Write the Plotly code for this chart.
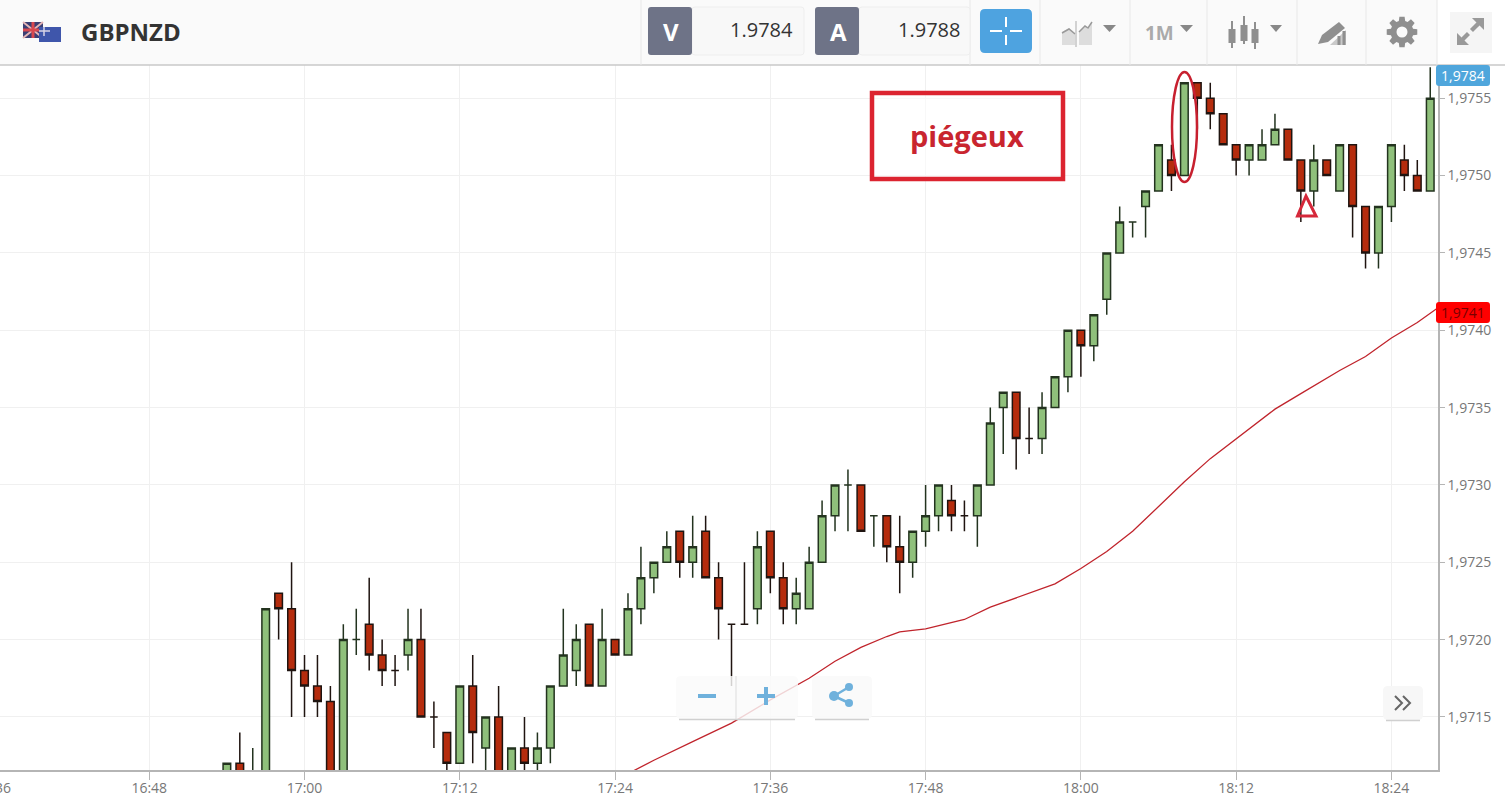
import math
import pandas as pd
import plotly.graph_objects as go

W, H = 1505, 809

# Candles, one per minute from 16:54, prices in units of 0.0001
open_pips = [19711,19712,19709,19710,19723,19722,19718,19717,19716,19710,19720,19721,19719,19718,19719,19720,19715,19714,19712,19717,
             19713,19715,19710,19713,19712,19713,19717,19718,19721,19717,19720,19719,19722,19724,19725,19727,19725,19727,19724,19721,
             19721,19722,19727,19724,19722,19722,19725,19728,19730,19730,19728,19728,19726,19725,19727,19728,19729,19728,19728,19730,
             19735,19736,19733,19733,19735,19737,19740,19739,19742,19745,19747,19748,19749,19751,19750,19756,19755,19754,19752,19751,
             19751,19752,19753,19751,19749,19751,19749,19752,19748,19745,19748,19751,19750,19749]
high_pips = [19712,19714,19713,19722,19723,19725,19719,19719,19717,19721,19722,19724,19720,19719,19722,19722,19716,19714,19717,19719,
             19715,19717,19713,19715,19714,19717,19722,19721,19721,19722,19720,19723,19726,19725,19727,19727,19728,19728,19725,19721,
             19725,19727,19727,19725,19724,19726,19729,19730,19731,19730,19728,19728,19728,19727,19730,19730,19730,19729,19730,19735,
             19736,19736,19735,19736,19737,19740,19740,19741,19745,19748,19747,19749,19752,19752,19756,19756,19756,19754,19752,19752,
             19753,19754,19753,19751,19752,19751,19752,19752,19748,19748,19752,19752,19751,19757]
low_pips = [19711,19711,19709,19710,19720,19715,19715,19715,19709,19710,19719,19718,19717,19717,19718,19715,19713,19711,19712,19712,
            19711,19710,19710,19711,19711,19712,19717,19717,19717,19717,19719,19719,19721,19723,19725,19724,19724,19724,19720,19717,
            19721,19721,19723,19721,19721,19722,19725,19727,19727,19727,19726,19725,19723,19724,19726,19727,19727,19727,19726,19730,
            19732,19731,19732,19732,19735,19736,19737,19738,19741,19745,19746,19746,19749,19749,19750,19753,19753,19752,19750,19750,
            19751,19752,19751,19747,19748,19750,19749,19746,19744,19744,19747,19749,19749,19749]
close_pips = [19712,19711,19710,19722,19722,19718,19717,19716,19710,19720,19720,19719,19718,19718,19720,19715,19715,19712,19717,19714,
              19715,19710,19713,19712,19713,19717,19719,19720,19717,19720,19719,19722,19724,19725,19726,19725,19726,19724,19722,19721,
              19721,19726,19724,19722,19723,19725,19728,19730,19730,19727,19728,19726,19725,19727,19728,19730,19728,19728,19730,19734,
              19736,19733,19733,19735,19737,19740,19739,19741,19745,19747,19747,19749,19752,19750,19756,19755,19754,19752,19751,19752,
              19752,19753,19751,19749,19751,19750,19752,19748,19745,19748,19752,19750,19749,19755]

# Moving average
ma_times = ["17:24","17:27","17:30","17:33","17:36","17:39","17:41","17:43","17:45","17:46","17:48","17:51","17:53","17:56","17:58",
            "18:00","18:02","18:04","18:06","18:08","18:10","18:12","18:15","18:17","18:20","18:22","18:24","18:26","18:27","18:28"]
ma_values = [1.97109,1.97122,1.97134,1.97146,1.97161,1.97175,1.97186,1.97195,1.97202,1.97205,1.97207,1.97213,1.97221,1.97230,1.97236,
             1.97246,1.97257,1.97270,1.97286,1.97302,1.97317,1.97330,1.97349,1.97359,1.97374,1.97383,1.97395,1.97405,1.97411,1.97417]

DAY = "2024-01-15 "
candle_times = pd.date_range(DAY + "16:54", periods=len(open_pips), freq="min")
scale = 1e-4


def X(px):
    return px / W


def Y(py):
    return 1 - py / H


def rect(x0, y0, x1, y1, fill, line=None, lw=1, opacity=1, layer="above"):
    return dict(type="rect", xref="paper", yref="paper", x0=X(x0), x1=X(x1), y0=Y(y0), y1=Y(y1),
                fillcolor=fill, line=dict(color=line or "rgba(0,0,0,0)", width=lw if line else 0),
                opacity=opacity, layer=layer)


def poly(pts, fill=None, line=None, lw=1, close=True, opacity=1):
    d = "M" + " L".join(f"{X(a):.5f},{Y(b):.5f}" for a, b in pts) + (" Z" if close else "")
    return dict(type="path", xref="paper", yref="paper", path=d,
                fillcolor=fill or "rgba(0,0,0,0)",
                line=dict(color=line or "rgba(0,0,0,0)", width=lw if line else 0),
                opacity=opacity, layer="above")


def rrect(x0, y0, x1, y1, r, fill, line=None, lw=1, opacity=1):
    a = lambda p, q: f"{X(p):.5f},{Y(q):.5f}"
    d = (f"M{a(x0+r,y0)} L{a(x1-r,y0)} Q{a(x1,y0)} {a(x1,y0+r)} L{a(x1,y1-r)} Q{a(x1,y1)} {a(x1-r,y1)} "
         f"L{a(x0+r,y1)} Q{a(x0,y1)} {a(x0,y1-r)} L{a(x0,y0+r)} Q{a(x0,y0)} {a(x0+r,y0)} Z")
    return dict(type="path", xref="paper", yref="paper", path=d, fillcolor=fill,
                line=dict(color=line or "rgba(0,0,0,0)", width=lw if line else 0),
                opacity=opacity, layer="above")


def circ(cx, cy, rx, ry, fill="rgba(0,0,0,0)", line=None, lw=1):
    return dict(type="circle", xref="paper", yref="paper", x0=X(cx-rx), x1=X(cx+rx), y0=Y(cy-ry), y1=Y(cy+ry),
                fillcolor=fill, line=dict(color=line or "rgba(0,0,0,0)", width=lw if line else 0), layer="above")


def vline(x, y0, y1, color, lw=1):
    return dict(type="line", xref="paper", yref="paper", x0=X(x), x1=X(x), y0=Y(y0), y1=Y(y1),
                line=dict(color=color, width=lw), layer="above")


def hline(x0, x1, y, color, lw=1):
    return dict(type="line", xref="paper", yref="paper", x0=X(x0), x1=X(x1), y0=Y(y), y1=Y(y),
                line=dict(color=color, width=lw), layer="above")


def label(text, x, y, size, color, bold=False, anchor="center", family="Open Sans"):
    return dict(text=f"<b>{text}</b>" if bold else text, xref="paper", yref="paper", x=X(x), y=Y(y),
                xanchor=anchor, yanchor="middle", showarrow=False,
                font=dict(family=family, size=size, color=color), borderpad=0, borderwidth=0)


shapes = []
anns = []

# Header
shapes.append(rect(0, 0, 1505, 65, "#fafafa"))
shapes.append(rect(1437, 0, 1505, 65, "#ffffff"))
shapes.append(hline(0, 1505, 65, "#c9c9c9", 1.5))
for sx in [641, 970, 1040, 1130, 1207, 1297, 1366, 1437]:
    shapes.append(vline(sx, 0, 65, "#e8e8e8", 1))

# Flags
shapes.append(rect(23, 22, 43, 38, "#3b3f73"))
shapes.append(poly([(23, 22), (43, 38)], line="#e6b5b5", lw=2, close=False))
shapes.append(poly([(43, 22), (23, 38)], line="#e6b5b5", lw=2, close=False))
shapes.append(hline(23, 43, 30, "#d8484f", 3))
shapes.append(vline(33, 22, 38, "#d8484f", 3))
shapes.append(rect(39, 27, 61, 42, "#3f56ab"))
shapes.append(hline(39, 50, 31, "#d9d4e6", 1.5))
shapes.append(vline(44, 27, 36, "#d9d4e6", 1.5))
anns.append(label("GBPNZD", 81, 32, 24, "#333333", bold=True, anchor="left"))

# Price boxes
shapes.append(rrect(692, 7, 804, 55, 3, "#f8f8f8", "#eeeeee"))
shapes.append(rrect(648, 7, 692, 55, 3, "#6e7387"))
anns.append(label("V", 671, 31, 24, "#ffffff", bold=True))
anns.append(label("1.9784", 793, 30, 20, "#333333", anchor="right"))
shapes.append(rrect(859, 7, 970, 55, 3, "#f8f8f8", "#eeeeee"))
shapes.append(rrect(815, 7, 859, 55, 3, "#6e7387"))
anns.append(label("A", 838, 31, 24, "#ffffff", bold=True))
anns.append(label("1.9788", 960, 30, 20, "#333333", anchor="right"))

# Crosshair button
shapes.append(rrect(980, 9, 1032, 53, 5, "#4ea3e0"))
shapes.append(hline(990, 1002, 31, "#ffffff", 2))
shapes.append(hline(1010, 1022, 31, "#ffffff", 2))
shapes.append(vline(1006, 17, 27, "#ffffff", 2))
shapes.append(vline(1006, 35, 45, "#ffffff", 2))

# Chart type icon
shapes.append(poly([(1062, 32), (1069, 28), (1075, 33), (1075, 45), (1062, 45)], fill="#dddddd"))
shapes.append(poly([(1079, 32), (1085, 27), (1088, 29), (1092, 23), (1092, 45), (1079, 45)], fill="#dddddd"))
shapes.append(poly([(1062, 33), (1069, 29), (1075, 34)], line="#999999", lw=1.5, close=False))
shapes.append(poly([(1079, 32), (1085, 26), (1088, 28), (1092, 22)], line="#999999", lw=1.5, close=False))
shapes.append(vline(1076, 21, 47, "#aaaaaa", 1))
shapes.append(poly([(1103, 25), (1116, 25), (1109.5, 32)], fill="#888888"))

# 1M
anns.append(label("1M", 1159, 33, 19, "#aaaaaa", bold=True))
shapes.append(poly([(1180, 25), (1193, 25), (1186.5, 32)], fill="#888888"))

# Candle icon
for cx, t, b, wt, wb in [(1232, 29, 43, 21, 48), (1244, 25, 41, 16, 44), (1255, 29, 43, 22, 49)]:
    shapes.append(vline(cx, wt, wb, "#8f8f8f", 2))
    shapes.append(rect(cx - 3.5, t, cx + 3.5, b, "#8f8f8f"))
shapes.append(poly([(1270, 25), (1282, 25), (1276, 32)], fill="#888888"))

# Pencil icon
shapes.append(poly([(1318, 44), (1322, 35), (1339, 22), (1345, 28), (1328, 42)], fill="#8f8f8f"))
shapes.append(poly([(1330, 45), (1346, 30), (1346, 45)], fill="#c9c9c9"))
shapes.append(vline(1339, 36, 45, "#8f8f8f", 3))
shapes.append(vline(1344, 31, 45, "#8f8f8f", 3))

# Gear icon
gear = []
for i in range(8):
    base = i * math.pi / 4
    for off, rad in [(-0.28, 11.5), (-0.17, 15.5), (0.17, 15.5), (0.28, 11.5)]:
        gear.append((1402 + rad * math.cos(base + off), 32 + rad * math.sin(base + off)))
shapes.append(poly(gear, fill="#8f8f8f"))
shapes.append(circ(1402, 32, 5.5, 5.5, fill="#fafafa"))

# Expand icon
shapes.append(rect(1450, 12, 1492, 53, "#f5f5f5"))
shapes.append(poly([(1484, 18), (1484, 30), (1479.5, 25.5), (1473, 32), (1470, 29), (1476.5, 22.5), (1472, 18)], fill="#999999"))
shapes.append(poly([(1457, 45), (1457, 33), (1461.5, 37.5), (1467, 32), (1470, 35), (1464.5, 40.5), (1469, 45)], fill="#999999"))

# Red annotations on the chart
shapes.append(dict(type="rect", xref="paper", yref="paper", x0=X(872), x1=X(1063), y0=Y(93), y1=Y(179),
                   fillcolor="rgba(255,255,255,0.55)", line=dict(color="#dc2430", width=4.5), layer="above"))
anns.append(label("piégeux", 967, 136, 29, "#c9252f", bold=True))
shapes.append(circ(1184.5, 127, 12.5, 55, line="#c7202f", lw=2.5))
shapes.append(poly([(1306, 196), (1297.5, 216), (1316, 216)], line="#d6283a", lw=3))

# Price tags
shapes.append(rrect(1436, 65, 1490, 86, 3, "#4fa6dc"))
anns.append(label("1,9784", 1463, 75.5, 14, "#ffffff"))
shapes.append(rrect(1436, 302, 1490, 323, 3, "#ff0000"))
anns.append(label("1,9741", 1463, 312.5, 14, "#7a0000"))
anns.append(label("36", 11, 787, 14, "#777777", anchor="right"))

# Zoom and share buttons
shapes.append(rrect(676, 676, 798, 719, 5, "rgba(250,250,250,0.82)"))
shapes.append(hline(679, 795, 719.5, "#d0d0d0", 1.5))
shapes.append(vline(736, 676, 719, "#dddddd", 1))
shapes.append(hline(698, 716, 696, "#6fb1dc", 4))
shapes.append(hline(757, 775, 696, "#6fb1dc", 4))
shapes.append(vline(766, 687, 705, "#6fb1dc", 4))
shapes.append(rrect(812, 676, 872, 719, 5, "rgba(250,250,250,0.9)"))
shapes.append(hline(815, 869, 719.5, "#d0d0d0", 1.5))
shapes.append(poly([(849, 687), (834, 696), (849, 703)], line="#6fb1dc", lw=2.5, close=False))
shapes.append(circ(834, 696, 5, 5, fill="#6fb1dc"))
shapes.append(circ(849, 687, 4, 4, fill="#6fb1dc"))
shapes.append(circ(849, 703, 4, 4, fill="#6fb1dc"))

# Collapse button
shapes.append(rrect(1383, 686, 1423, 720, 5, "#f7f7f7"))
shapes.append(hline(1386, 1420, 720.5, "#d0d0d0", 1.5))
shapes.append(poly([(1395, 696), (1402, 703), (1395, 710)], line="#666666", lw=2, close=False))
shapes.append(poly([(1403, 696), (1410, 703), (1403, 710)], line="#666666", lw=2, close=False))

fig = go.Figure()
fig.add_trace(go.Scatter(
    x=[DAY + t for t in ma_times], y=ma_values, mode="lines",
    line=dict(color="#c0242c", width=1.3), hoverinfo="skip", showlegend=False))
fig.add_trace(go.Candlestick(
    x=candle_times,
    open=[v * scale for v in open_pips],
    high=[v * scale for v in high_pips],
    low=[v * scale for v in low_pips],
    close=[v * scale for v in close_pips],
    increasing=dict(fillcolor="#8fc07b", line=dict(color="#23331f", width=1.5)),
    decreasing=dict(fillcolor="#b52c0d", line=dict(color="#1f1410", width=1.5)),
    whiskerwidth=0, showlegend=False, hoverinfo="skip"))

fig.update_layout(
    width=W, height=H, autosize=False,
    margin=dict(l=0, r=0, t=0, b=0, pad=0),
    paper_bgcolor="#ffffff", plot_bgcolor="#ffffff",
    separators=",.", showlegend=False, hovermode=False, boxgap=0.16,
    font=dict(family="Open Sans", size=14, color="#777777"),
    shapes=shapes, annotations=anns,
    xaxis=dict(
        type="date", domain=[0, 1438 / W], range=[DAY + "16:36:28", DAY + "18:27:36"],
        tick0=DAY + "16:48", dtick=720000, tickformat="%H:%M",
        showgrid=True, gridcolor="#f0f0f0", gridwidth=1, zeroline=False,
        showline=True, linecolor="#b5b5b5", linewidth=2,
        ticks="outside", ticklen=8, tickcolor="#b5b5b5", tickwidth=1, ticklabelstandoff=-4,
        tickfont=dict(family="Open Sans", size=14, color="#777777"),
        rangeslider=dict(visible=False), fixedrange=True),
    yaxis=dict(
        side="right", domain=[(H - 770) / H, (H - 65) / H], range=[1.971157, 1.975715],
        tick0=1.9715, dtick=0.0005, tickformat=".4f",
        showgrid=True, gridcolor="#f0f0f0", gridwidth=1, zeroline=False,
        showline=True, linecolor="#b5b5b5", linewidth=1.5,
        ticks="outside", ticklen=5, tickcolor="#b5b5b5", tickwidth=1,
        tickfont=dict(family="Open Sans", size=14, color="#777777"), fixedrange=True),
)

fig.write_html("out.html", config={"displayModeBar": False},
               post_script="document.body.style.margin='0';document.body.style.overflow='hidden';")
